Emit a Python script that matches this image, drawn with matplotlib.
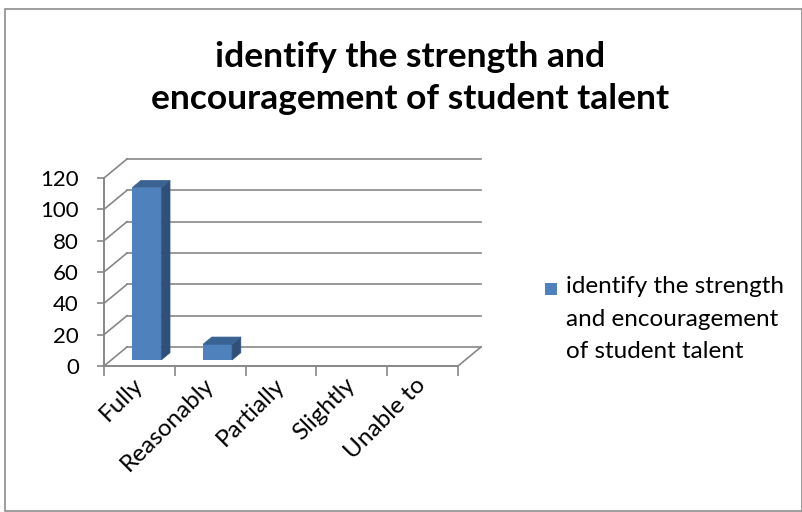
import matplotlib
matplotlib.use("Agg")
import matplotlib.pyplot as plt
from matplotlib.patches import Polygon, Rectangle

plt.rcParams['font.family'] = ['Lato', 'DejaVu Sans']

# data
categories = ['Fully', 'Reasonably', 'Partially', 'Slightly', 'Unable to']
values = [110, 10, 0, 0, 0]
series_name = 'identify the strength\nand encouragement\nof student talent'
title = 'identify the strength and\nencouragement of student talent'
yticks = [0, 20, 40, 60, 80, 100, 120]

W, H = 803, 512
fig = plt.figure(figsize=(W / 100, H / 100), dpi=100)

# chart border
fig.patches.append(Rectangle((5 / W, 1 / H), 797 / W, (H - 10) / H, transform=fig.transFigure,
                             fill=False, edgecolor='#8c8c8c', lw=1.2))

# plot area (pixel geometry of the front plane)
x0px, x1px = 104, 490
ybot, ytop = 366, 155
ax = fig.add_axes([x0px / W, (H - ybot) / H, (x1px - x0px) / W, (ybot - ytop) / H])
xpu = (458 - 104) / 5.0          # pixels per category
ypu = (366 - 178) / 120.0        # pixels per value unit
ax.set_xlim(0, (x1px - x0px) / xpu)
ax.set_ylim(0, (ybot - ytop) / ypu)

n = len(categories)
dx = 23 / xpu     # depth offset in data units
dy = 19 / ypu
grid_c = '#878787'

# walls: back gridlines + side diagonals
for v in yticks:
    ax.plot([dx, n + dx], [v + dy, v + dy], color=grid_c, lw=1.2, zorder=1)
    ax.plot([0, dx], [v, v + dy], color=grid_c, lw=1.2, zorder=1)
ax.plot([n, n + dx], [0, dy], color=grid_c, lw=1.2, zorder=1)

# 3d bars
front = '#4f81bd'
side = '#2f5079'
top = '#3a6394'
f0, f1 = 0.32, 0.70
bw = 0.41
xs = [i + 0.5 - bw / 2 + f0 * dx for i in range(n)]
bars = ax.bar(xs, values, width=bw, bottom=f0 * dy, align='edge', color=front,
              lw=0, zorder=3)
ddx, ddy = (f1 - f0) * dx, (f1 - f0) * dy
for b, v in zip(bars, values):
    if v <= 0:
        continue
    xl, xr = b.get_x(), b.get_x() + b.get_width()
    yb, yt = b.get_y(), b.get_y() + b.get_height()
    ax.add_patch(Polygon([(xr, yb), (xr + ddx, yb + ddy), (xr + ddx, yt + ddy), (xr, yt)],
                         closed=True, facecolor=side, edgecolor=side, lw=0.5, zorder=3))
    ax.add_patch(Polygon([(xl, yt), (xr, yt), (xr + ddx, yt + ddy), (xl + ddx, yt + ddy)],
                         closed=True, facecolor=top, edgecolor=top, lw=0.5, zorder=3))

# axes
for s in ['top', 'right']:
    ax.spines[s].set_visible(False)
ax.spines['left'].set_bounds(0, 120)
ax.spines['bottom'].set_bounds(0, n)
for s in ['left', 'bottom']:
    ax.spines[s].set_color(grid_c)
    ax.spines[s].set_linewidth(1.4)
ax.set_yticks(yticks)
ax.set_yticklabels([str(t) for t in yticks], fontsize=16)
ax.tick_params(axis='y', length=5, width=1.2, color=grid_c, pad=13)
ax.set_xticks(range(n + 1))
ax.set_xticklabels([''] * (n + 1))
ax.tick_params(axis='x', which='major', length=7, width=1.2, color=grid_c)
ax.set_xticks([i + 0.5 for i in range(n)], minor=True)
ax.set_xticklabels(categories, minor=True, rotation=45, ha='right', va='center',
                   rotation_mode='anchor', fontsize=17.5)
ax.tick_params(axis='x', which='minor', length=0, pad=11)
ax.patch.set_alpha(0)

# title
fig.text(410 / W, 1 - 78 / H, title, ha='center', va='center', fontsize=25.5,
         fontweight='bold', linespacing=1.38)

# legend: square marker aligned with the first text line
fig.patches.append(Rectangle((545 / W, 1 - 295 / H), 12 / W, 12 / H, transform=fig.transFigure,
                             facecolor=front, edgecolor='none'))
fig.text(566 / W, 1 - 276 / H, series_name, ha='left', va='top', fontsize=17.5,
         linespacing=1.69, transform=fig.transFigure)

fig.savefig('out.png', dpi=100)
